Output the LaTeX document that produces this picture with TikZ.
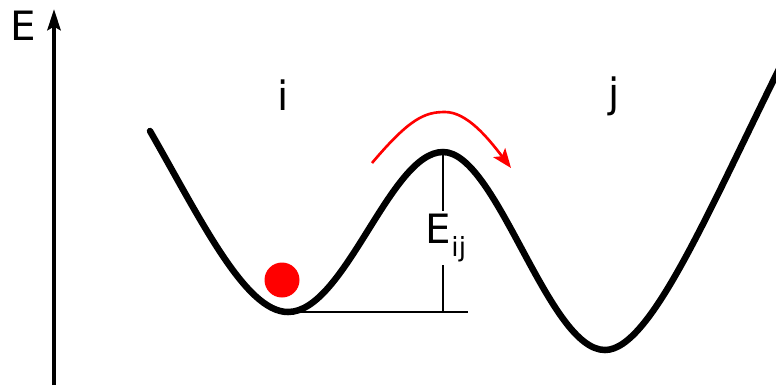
\documentclass[tikz,border=0pt]{standalone}
\usepackage{fontspec}
\setmainfont{DejaVu Sans}
\usetikzlibrary{arrows.meta}
\tikzset{
	lbl/.style={anchor=center, inner sep=1pt, font=\fontsize{23}{27}\selectfont},
	well/.style={line width=3.7pt, line cap=round},
	thin/.style={line width=1.2pt}
}
\begin{document}
\begin{tikzpicture}[x=0.02cm, y=-0.02cm]
	\useasboundingbox (0,0) rectangle (776,387);
	% Axis:
	\coordinate (axbot) at (54,385);
	\coordinate (axtop) at (54,9);
	\draw[line width=2.3pt, -{Stealth[length=12pt, width=7.5pt, inset=2pt]}] (axbot) -- (axtop);
	\node[lbl] (elbl) at (23,26){E};
	% Wells:
	\node[lbl] (ilbl) at (283,95){i};
	\node[lbl] (jlbl) at (614,96){j};
	\coordinate (start) at (150,131);
	\coordinate (mini) at (288,312);
	\coordinate (peak) at (443,152);
	\coordinate (minj) at (605,350);
	\coordinate (stop) at (790,47);
	\begin{scope}
		\clip (0,0) rectangle (776,387);
		\draw[well] (start) .. controls (200,218) and (245,312) .. (mini) .. controls (345,312) and (390,152) .. (peak) .. controls (497,152) and (548,350) .. (minj) .. controls (652,350) and (712,202) .. (stop);
	\end{scope}
	% Barrier:
	\coordinate (base) at (443,312);
	\coordinate (baseend) at (468,312);
	\draw[thin] (mini) -- (baseend);
	\draw[thin] (peak) -- (base);
	\node[lbl, fill=white, inner sep=2pt] (eij) at (446,238){E\raisebox{-0.32em}{\fontsize{15}{18}\selectfont ij}};
	% Particle and hop:
	\node[circle, fill=red, minimum size=0.7cm, inner sep=0pt] (dot) at (282,280){};
	\coordinate (hopa) at (372,163);
	\coordinate (hopb) at (511,168);
	\draw[red, line width=1.5pt, -{Stealth[length=11pt, width=8.5pt, inset=2.5pt]}] (hopa) .. controls (410,118) and (425,112) .. (445,112) .. controls (467,112) and (488,138) .. (hopb);
\end{tikzpicture}
\end{document}
